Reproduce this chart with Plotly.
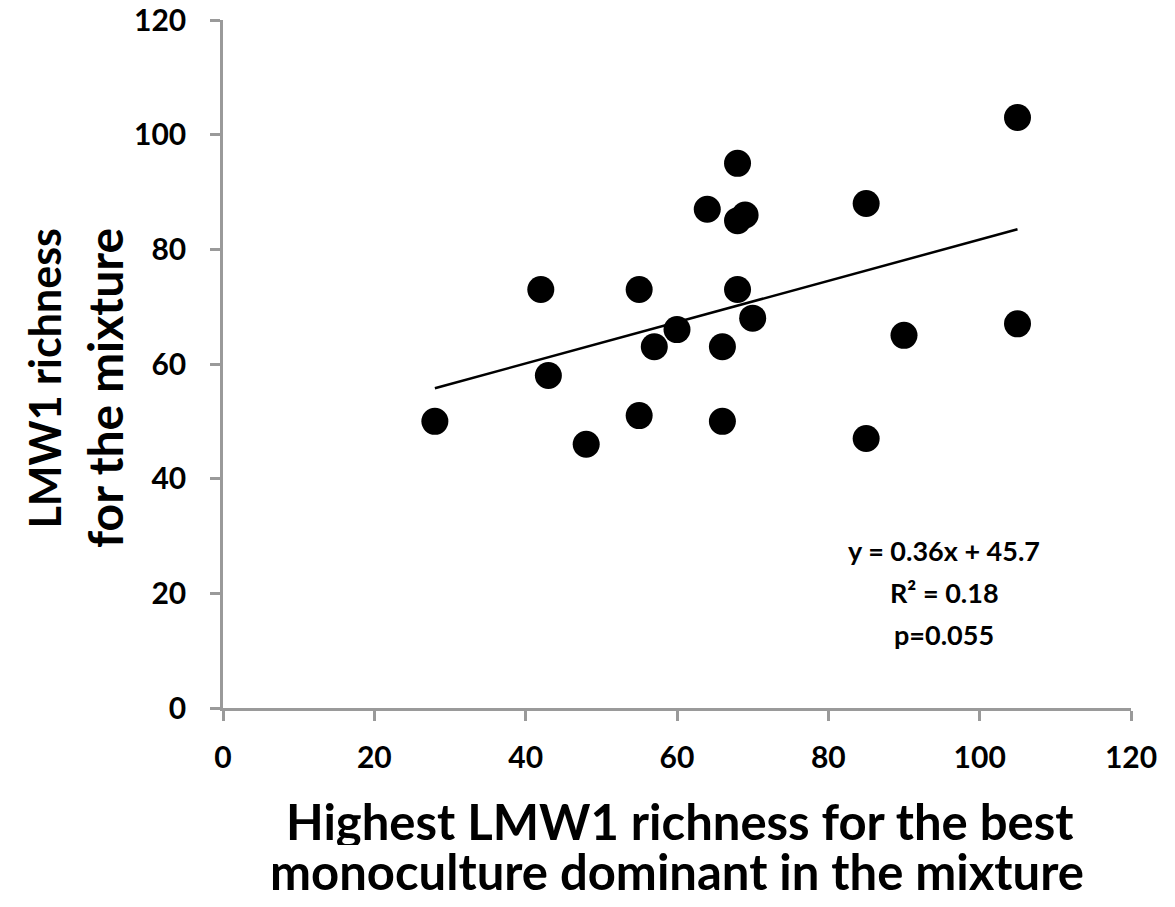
import plotly.graph_objects as go

# Data
best_mono = [28, 42, 43, 48, 55, 55, 57, 60, 64, 68, 68, 69, 68, 70, 66, 66, 105, 85, 90, 105, 85]
mixture = [50, 73, 58, 46, 73, 51, 63, 66, 87, 95, 85, 86, 73, 68, 63, 50, 103, 88, 65, 67, 47]

slope = 0.36
intercept = 45.7
r2_text = "0.18"
p_text = "0.055"

x_ticks = [0, 20, 40, 60, 80, 100, 120]
y_ticks = [0, 20, 40, 60, 80, 100, 120]

x_title_lines = ["Highest LMW1 richness for the best", "monoculture dominant in the mixture"]
y_title_lines = ["LMW1 richness", "for the mixture"]
stat_lines = [f"y = {slope}x + {intercept}", f"R² = {r2_text}", f"p={p_text}"]

FONT = "Lato"

x_line = [min(best_mono), max(best_mono)]
y_line = [slope * v + intercept for v in x_line]

fig = go.Figure()
fig.add_trace(go.Scatter(
    x=best_mono, y=mixture, mode="markers",
    marker=dict(size=27, color="black"),
    showlegend=False, hoverinfo="x+y",
))
fig.add_trace(go.Scatter(
    x=x_line, y=y_line, mode="lines",
    line=dict(color="black", width=2.5),
    showlegend=False, hoverinfo="skip",
))

axis_common = dict(
    showgrid=False, zeroline=False, showline=True, automargin=False,
    linecolor="#9a9a9a", linewidth=2.5,
    ticks="outside", ticklen=10, tickwidth=2.5, tickcolor="#9a9a9a",
    tickfont=dict(family=FONT, size=30, color="black", weight="bold"),
)

# plot area in pixels: left 223, right 1131, top 20, bottom 708
def px_x(p):
    return (p - 223) / 908.0

def px_y(p):
    return (708 - p) / 688.0

def bold(size):
    return dict(family=FONT, size=size, color="black", weight="bold")

annotations = [
    dict(text=x_title_lines[0], xref="paper", yref="paper",
         x=px_x(679), y=px_y(821), xanchor="center", yanchor="middle",
         height=48, valign="middle",
         showarrow=False, font=bold(49)),
    dict(text=x_title_lines[1], xref="paper", yref="paper",
         x=px_x(677), y=px_y(871), xanchor="center", yanchor="middle",
         height=48, valign="middle",
         showarrow=False, font=bold(49)),
    dict(text=y_title_lines[0], xref="paper", yref="paper",
         x=px_x(44), y=px_y(226), xanchor="center", yanchor="top",
         textangle=-90, showarrow=False, font=bold(43)),
    dict(text=y_title_lines[1], xref="paper", yref="paper",
         x=px_x(104), y=px_y(226), xanchor="center", yanchor="top",
         textangle=-90, showarrow=False, font=bold(48)),
]
for line, ypix in zip(stat_lines, [550, 592, 634]):
    annotations.append(dict(
        text=line, xref="paper", yref="paper",
        x=px_x(944), y=px_y(ypix), xanchor="center", yanchor="middle",
        showarrow=False, font=bold(27),
    ))

fig.update_layout(
    width=1175, height=907,
    margin=dict(l=223, r=44, t=20, b=199),
    paper_bgcolor="white", plot_bgcolor="white",
    xaxis=dict(range=[0, 120], tickvals=x_ticks, ticklabelstandoff=11, **axis_common),
    yaxis=dict(range=[0, 120], tickvals=y_ticks, ticklabelstandoff=18, **axis_common),
    font=dict(family=FONT, color="black"),
    annotations=annotations,
)

fig.write_html(
    "out.html",
    config={"displayModeBar": False},
    post_script="document.body.style.margin='0';document.body.style.overflow='hidden';",
)
